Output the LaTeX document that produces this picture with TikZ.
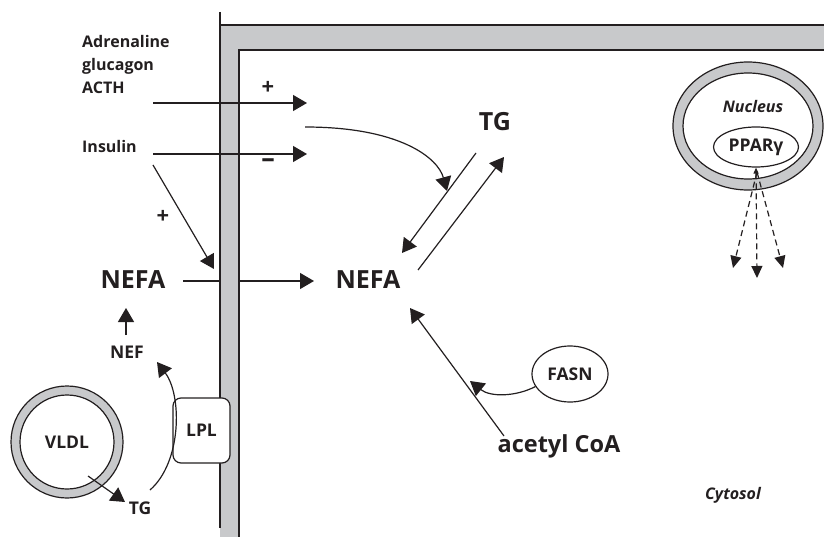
\documentclass[tikz,border=0pt]{standalone}
\usepackage{fontspec}
\setmainfont{Open Sans}
\usepackage{tikz}
\usetikzlibrary{arrows.meta,shapes.geometric}

\definecolor{ink}{RGB}{35,31,32}
\definecolor{membrane}{RGB}{200,201,203}

\tikzset{
  arr/.style={line width=1.2pt, -{Triangle[length=14pt,width=16pt]}},
  dasharr/.style={line width=1.2pt, dash pattern=on 6pt off 4pt, -{Triangle[length=12pt,width=11pt]}},
  lbl/.style={font=\bfseries\fontsize{16}{18}\selectfont, inner sep=1pt},
  mid/.style={font=\bfseries\fontsize{17.5}{20}\selectfont, inner sep=1pt},
  big/.style={font=\bfseries\fontsize{25}{28}\selectfont, inner sep=1pt},
  ital/.style={font=\bfseries\itshape\fontsize{16}{18}\selectfont, inner sep=1pt},
  plussign/.style={font=\bfseries\fontsize{22}{24}\selectfont, inner sep=0pt},
  minussign/.style={font=\bfseries\fontsize{27}{29}\selectfont, inner sep=0pt},
  oval/.style={ellipse, draw, line width=1.2pt, inner sep=0pt, font=\bfseries\fontsize{17.5}{20}\selectfont},
  lplbox/.style={draw, fill=white, line width=1.2pt, rounded corners=8pt,
                 minimum width=57pt, minimum height=65pt, font=\bfseries\fontsize{17.5}{20}\selectfont}
}

\begin{document}
\begin{tikzpicture}[x=1pt, y=-1pt, color=ink]
      \useasboundingbox (0,0) rectangle (824,537);

      % Cell membrane
      \fill[membrane] (220,25) -- (824,25) -- (824,50) -- (239,50) -- (239,537) -- (220,537) -- cycle;
      \draw[line width=1.2pt] (220,12) -- (220,528);
      \draw[line width=1.2pt] (220,25) -- (824,25);
      \draw[line width=1.2pt] (239,537) -- (239,50) -- (824,50);

      % Hormones
      \node[lbl, anchor=west] (adr) at (81,42) {Adrenaline};
      \node[lbl, anchor=west] (glu) at (81,66) {glucagon};
      \node[lbl, anchor=west] (acth) at (81,88) {ACTH};
      \node[lbl, anchor=west] (ins) at (81,147) {Insulin};

      \coordinate (acthS) at (153,103);
      \coordinate (acthE) at (307,103);
      \draw[arr] (acthS) -- (acthE);
      \node[plussign] (plusA) at (268,88) {+};

      \coordinate (insS) at (153,154);
      \coordinate (insE) at (307,154);
      \draw[arr] (insS) -- (insE);
      \node[minussign] (minusI) at (268,163) {–};

      \coordinate (insD) at (153,165);
      \coordinate (insT) at (214,269);
      \draw[arr] (insD) -- (insT);
      \node[plussign] (plusI) at (163,217) {+};

      % NEFA across the membrane
      \node[big] (nefaL) at (133,280) {NEFA};
      \node[big] (nefaR) at (368,280) {NEFA};
      \coordinate (nefaLo) at (183,281);
      \coordinate (memO) at (220,281);
      \coordinate (memI) at (239,281);
      \coordinate (nefaRi) at (314,281);
      \draw[line width=1.2pt] (nefaLo) -- (memO);
      \draw[arr] (memI) -- (nefaRi);

      % TG <-> NEFA
      \node[big] (tg) at (495,122) {TG};
      \coordinate (tgA) at (476,153);
      \coordinate (nefaA) at (402,253);
      \coordinate (nefaB) at (418,270);
      \coordinate (tgB) at (504,157);
      \draw[arr] (tgA) -- (nefaA);
      \draw[arr] (nefaB) -- (tgB);

      % hormone effect on lipolysis
      \coordinate (lipS) at (305,127);
      \coordinate (lipT) at (447,191);
      \draw[arr] (lipS) .. controls (400,127) and (438,158) .. (lipT);

      % Nucleus
      \coordinate (nuc) at (748,126);
      \fill[membrane, even odd rule] (nuc) ellipse [x radius=75, y radius=64]
                                     (nuc) ellipse [x radius=65, y radius=53];
      \draw[line width=1.2pt] (nuc) ellipse [x radius=75, y radius=64];
      \draw[line width=1.2pt] (nuc) ellipse [x radius=65, y radius=53];
      \node[ital] (nucl) at (753,107) {Nucleus};
      \node[oval, minimum width=85pt, minimum height=40pt] (ppar) at (756,147) {PPARγ};

      \coordinate (dsrc) at (757,172);
      \coordinate (dL) at (733,268);
      \coordinate (dM) at (757,278);
      \coordinate (dR) at (783,268);
      \draw[dasharr] (dsrc) -- (dL);
      \draw[dasharr] (dsrc) -- (dR);
      \draw[dasharr, {Triangle[length=6pt,width=5pt]}-{Triangle[length=12pt,width=11pt]}] (ppar.south) -- (dM);

      % VLDL and LPL
      \coordinate (vldlC) at (67,442);
      \fill[membrane, even odd rule] (vldlC) circle (56) (vldlC) circle (47);
      \draw[line width=1.2pt] (vldlC) circle (56);
      \draw[line width=1.2pt] (vldlC) circle (47);
      \node[mid] (vldl) at (vldlC) {VLDL};
      \node[mid] (tgS) at (140,508) {TG};
      \coordinate (vtS) at (88,476);
      \coordinate (vtE) at (125,502);
      \draw[arr] (vtS) -- (vtE);

      \node[lplbox] (lpl) at (201.5,430.5) {LPL};
      \coordinate (lplS) at (150,490);
      \coordinate (nefT) at (157,362);
      \draw[arr] (lplS) .. controls (182,462) and (182,395) .. (nefT);

      \node[mid] (nef) at (127,352) {NEF};
      \coordinate (nefS) at (126,335);
      \coordinate (nefaUp) at (126,308);
      \draw[arr] (nefS) -- (nefaUp);

      % de novo synthesis
      \node[oval, minimum width=76pt, minimum height=56pt] (fasn) at (570,374) {FASN};
      \coordinate (fasnT) at (470,381);
      \draw[arr] (fasn.200) .. controls (515,397) and (490,397) .. (fasnT);

      \node[big, font=\bfseries\fontsize{23.5}{27}\selectfont] (acoa) at (559,446) {acetyl CoA};
      \coordinate (acS) at (504,436);
      \coordinate (nefaT) at (410,308);
      \draw[arr] (acS) -- (nefaT);

      \node[ital] (cyt) at (733,495) {Cytosol};
\end{tikzpicture}
\end{document}
